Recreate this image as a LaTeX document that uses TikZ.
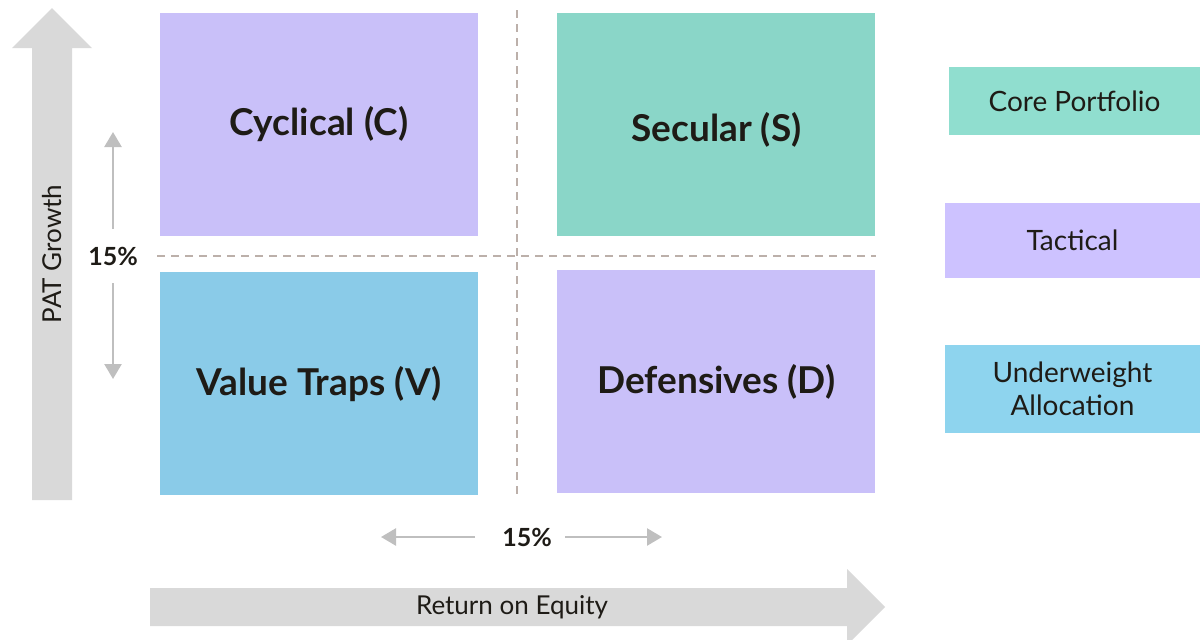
\documentclass[tikz,border=0pt]{standalone}
\usepackage{fontspec}
\setmainfont{Lato}
\usepackage{tikz}
\usetikzlibrary{arrows.meta, positioning, calc}
\definecolor{ink}{HTML}{1E1B16}
\definecolor{purp}{HTML}{C9C0F9}
\definecolor{teal}{HTML}{8AD6C8}
\definecolor{sky}{HTML}{8ACBE8}
\definecolor{legteal}{HTML}{90DECF}
\definecolor{legpurp}{HTML}{CDC2FF}
\definecolor{legsky}{HTML}{8ED4EE}
\definecolor{axisgrey}{HTML}{D9D9D9}
\definecolor{arrowgrey}{HTML}{BFBFBF}
\definecolor{dashgrey}{HTML}{BCB0AA}
\tikzstyle{quad} = [rectangle, minimum width=318pt, minimum height=223pt, text centered, text=ink, font=\fontsize{37}{40}\selectfont\bfseries]
\tikzstyle{legend} = [rectangle, minimum width=255pt, align=center, text=ink, font=\fontsize{28}{33}\selectfont]
\tikzstyle{smallarrow} = [line width=2.5pt, draw=arrowgrey, -{Triangle[length=15pt,width=17pt]}]
\tikzstyle{divider} = [line width=2.6pt, draw=dashgrey, dash pattern=on 8pt off 6pt]
\tikzstyle{bigarrow} = [fill=axisgrey]
\tikzstyle{pct} = [text=ink, font=\fontsize{25}{28}\selectfont\bfseries]
\tikzstyle{axis} = [text=ink, font=\fontsize{26}{30}\selectfont]

\begin{document}
\begin{tikzpicture}[x=1pt, y=-1pt]
\useasboundingbox (0,0) rectangle (1200,640);
%----------------------------------------------------------------------------
% Axes
\fill [bigarrow] (32,500) -- (32,48) -- (12,48) -- (52,8) -- (92,48) -- (72,48) -- (72,500) -- cycle;
\node (patGrowth) [axis, rotate=90] at (52,254) {PAT Growth};
\fill [bigarrow] (150,588) -- (847,588) -- (847,569) -- (885,607) -- (847,645) -- (847,626) -- (150,626) -- cycle;
\node (roe) [axis] at (512,607) {Return on Equity};

%----------------------------------------------------------------------------
% Placement of quadrants
\node (cyclical) [quad, fill=purp] at (319,124.5) {Cyclical (C)};
\node (secular) [quad, fill=teal, right=79pt of cyclical, text height=40pt] {Secular (S)};
\node (valueTraps) [quad, fill=sky, below=36pt of cyclical] {Value Traps (V)};
\node (defensives) [quad, fill=purp, below=34pt of secular] {Defensives (D)};

%----------------------------------------------------------------------------
% Dividers
\coordinate (vTop) at (517,10);
\coordinate (vBot) at (517,497);
\coordinate (hLeft) at (157,256);
\coordinate (hRight) at (876,256);
\draw [divider] (vTop) -- (vBot);
\draw [divider] (hLeft) -- (hRight);

%----------------------------------------------------------------------------
% 15% thresholds
\node (vPct) [pct] at (113,256) {15\%};
\coordinate (upStart) at (113,229);
\coordinate (upEnd) at (113,132);
\coordinate (downStart) at (113,283);
\coordinate (downEnd) at (113,379);
\draw [smallarrow] (upStart) -- (upEnd);
\draw [smallarrow] (downStart) -- (downEnd);

\node (hPct) [pct] at (527,537) {15\%};
\coordinate (leftStart) at (475,537);
\coordinate (leftEnd) at (381,537);
\coordinate (rightStart) at (565,537);
\coordinate (rightEnd) at (662,537);
\draw [smallarrow] (leftStart) -- (leftEnd);
\draw [smallarrow] (rightStart) -- (rightEnd);

%----------------------------------------------------------------------------
% Legend
\node (corePort) [legend, fill=legteal, minimum width=251pt, minimum height=68pt] at (1074.5,101) {Core Portfolio};
\node (tactical) [legend, fill=legpurp, minimum height=75pt] at (1072.5,240.5) {Tactical};
\node (underweight) [legend, fill=legsky, minimum height=88pt] at (1072.5,389) {Underweight\\Allocation};
\end{tikzpicture}
\end{document}
